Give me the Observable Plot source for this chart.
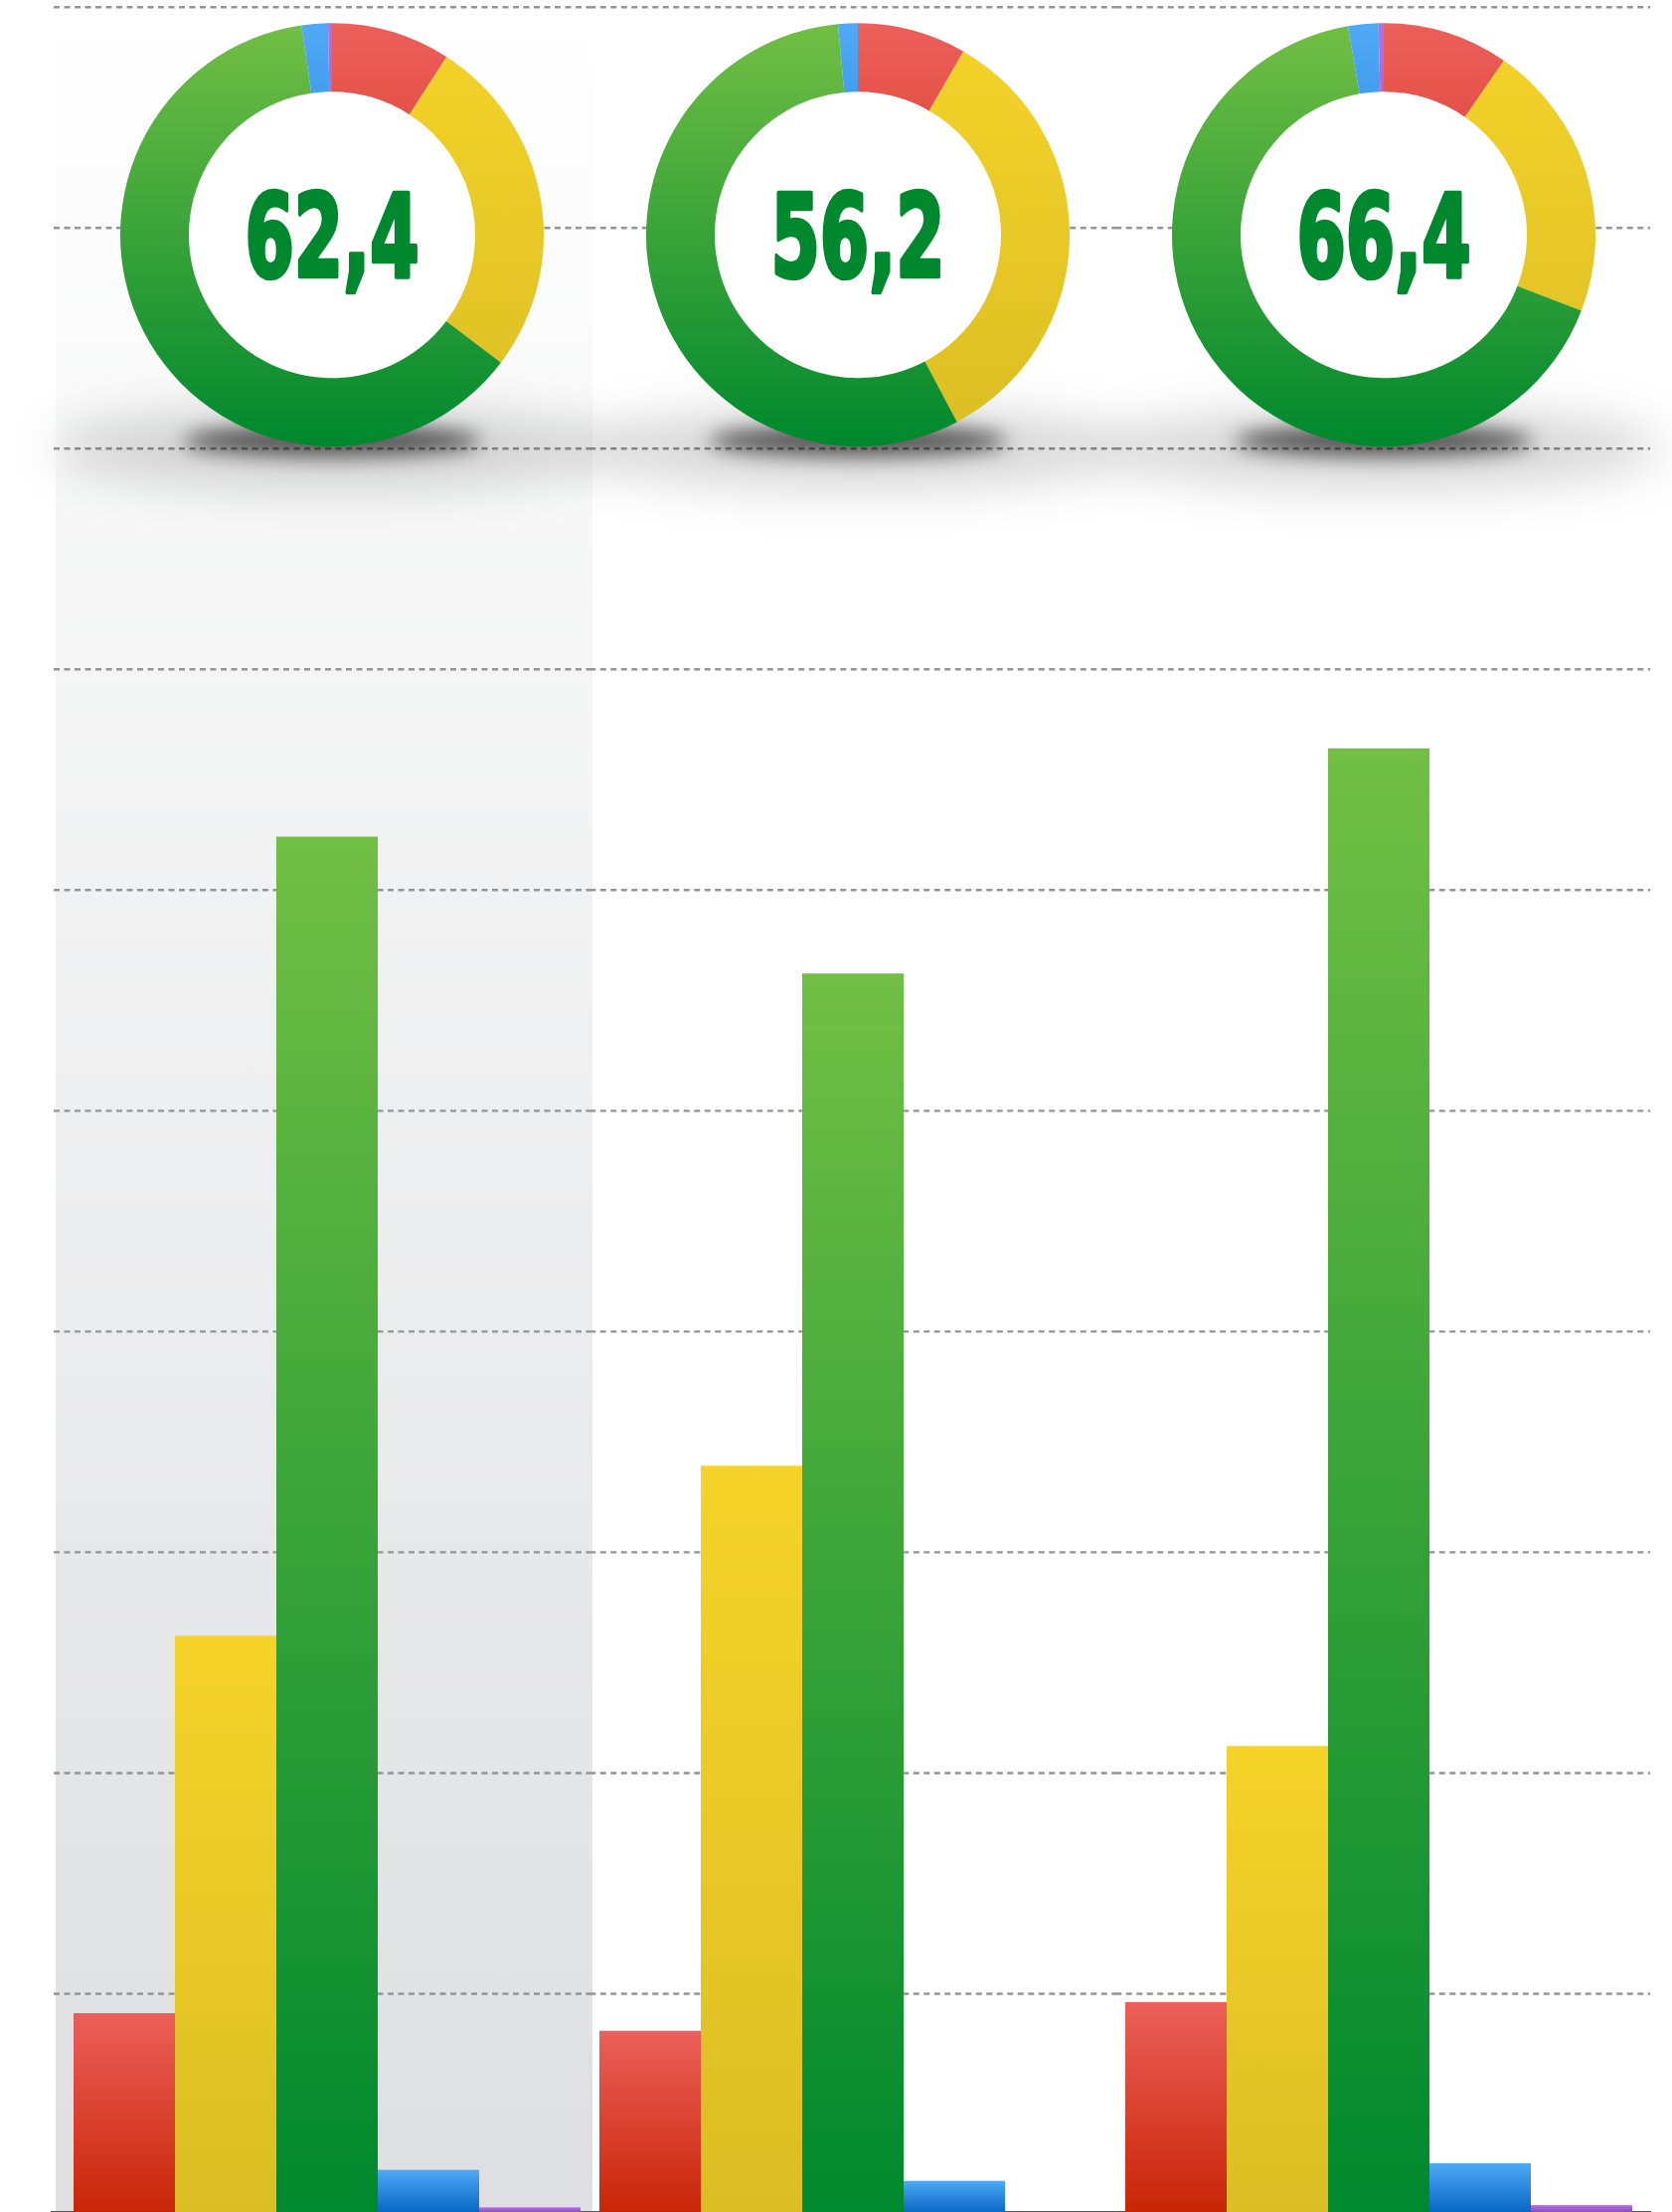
<!DOCTYPE html>
<html>
<head>
<meta charset="utf-8">
<script src="https://cdn.jsdelivr.net/npm/d3@7"></script>
<script src="https://cdn.jsdelivr.net/npm/@observablehq/plot@0.6"></script>
<style>
  html, body { margin: 0; padding: 0; background: #fff; overflow: hidden; }
  #chart svg { display: block; max-width: none !important; }
</style>
</head>
<body>
<div id="chart"></div>
<script>
// ---- data ----
const groups = ["A", "B", "C"];
const categories = ["red", "yellow", "green", "blue", "purple"];
const valuesA = [9.1, 26.2, 62.4, 2.0, 0.3];
const valuesB = [8.3, 33.9, 56.2, 1.5, 0];
const valuesC = [9.6, 21.2, 66.4, 2.3, 0.4];
const gridTicks = [10, 20, 30, 40, 50, 60, 70, 80, 90, 100];

// ---- derived tables ----
const seriesByGroup = [valuesA, valuesB, valuesC];
const table = groups.flatMap((g, gi) =>
  categories.map((c, ci) => ({group: g, category: c, value: seriesByGroup[gi][ci]}))
);
const gridRows = groups.flatMap(g => gridTicks.map(v => ({group: g, value: v})));
const baseRows = groups.map(g => ({group: g, value: 0}));

// ---- styles ----
const palette = {
  red: ["#ec5f5a", "#c82506"],
  yellow: ["#f5d329", "#dbbe24"],
  green: ["#72bf44", "#00882e"],
  blue: ["#4fa9f6", "#0565c4"],
  purple: ["#b46ee6", "#7c46a8"]
};
const gridExt = [[-20, -9.75], [-9.75, -9.75], [-9.75, -18]];
const baseExt = [[-23, -9.75], [-9.75, -9.75], [-9.75, -19]];

// ---- donut mark (one per facet) ----
let facetCall = 0;
function donutMark(index, scales, values, dims) {
  const k = facetCall++ % groups.length;
  const vals = seriesByGroup[k];
  const xs = scales.x;
  const bw = xs.bandwidth ? xs.bandwidth() : 0;
  const left = xs(categories[0]);
  const right = xs(categories[categories.length - 1]) + bw;
  const cx = (left + right) / 2 + 5;
  const R = 213, r = 144;
  const cy = scales.y(80) - R - 1.5;
  const g = d3.create("svg:g");
  const defs = g.append("defs");
  categories.forEach(c => {
    const lg = defs.append("linearGradient")
      .attr("id", `donut-${c}-${k}`)
      .attr("gradientUnits", "userSpaceOnUse")
      .attr("x1", 0).attr("x2", 0).attr("y1", -R).attr("y2", R);
    lg.append("stop").attr("offset", 0).attr("stop-color", palette[c][0]);
    lg.append("stop").attr("offset", 1).attr("stop-color", palette[c][1]);
  });
  // shadow
  g.append("ellipse")
    .attr("cx", cx).attr("cy", cy + R + 2).attr("rx", 280).attr("ry", 40)
    .attr("fill", "#000").attr("fill-opacity", 0.16).attr("filter", "url(#blurWide)");
  g.append("ellipse")
    .attr("cx", cx).attr("cy", cy + R - 6).attr("rx", 150).attr("ry", 16)
    .attr("fill", "#000").attr("fill-opacity", 0.6).attr("filter", "url(#blurCore)");
  // hole
  g.append("circle").attr("cx", cx).attr("cy", cy).attr("r", r + 1).attr("fill", "#fff");
  const pie = d3.pie().sort(null).value(d => d.value)(
    categories.map((c, i) => ({c, value: vals[i]}))
  );
  const arc = d3.arc().innerRadius(r).outerRadius(R);
  g.append("g").attr("transform", `translate(${cx},${cy})`)
    .selectAll("path").data(pie).join("path")
    .attr("d", arc)
    .attr("fill", d => `url(#donut-${d.data.c}-${k})`);
  const label = d3.format(".1f")(vals[categories.indexOf("green")]).replace(".", ",");
  g.append("text")
    .attr("transform", `translate(${cx},${cy + 42}) scale(0.68,1)`)
    .attr("text-anchor", "middle")
    .attr("font-family", "'DejaVu Sans Condensed', 'DejaVu Sans', sans-serif")
    .attr("font-weight", "bold")
    .attr("font-size", 116)
    .attr("fill", "#00882e")
    .attr("stroke", "#00882e")
    .attr("stroke-width", 4.5)
    .attr("stroke-linejoin", "round")
    .text(label);
  return g.node();
}

// ---- plot ----
const plot = Plot.plot({
  width: 1682,
  height: 2227,
  marginTop: 6.7,
  marginBottom: 0,
  marginLeft: 73,
  marginRight: 40,
  fx: {domain: groups, paddingInner: 0.0368, paddingOuter: 0, axis: null, label: null},
  x: {domain: categories, padding: 0, axis: null, label: null},
  y: {domain: [0, 100], axis: null, label: null},
  marks: [
    Plot.barY([{group: groups[0]}], {fx: "group", y1: () => 0, y2: () => 100, insetLeft: -18, insetRight: -12, fill: "url(#panelGrad)"}),
    ...groups.map((g, i) => Plot.ruleY(gridRows.filter(d => d.group === g), {
      fx: "group", y: "value", stroke: "#949494", strokeWidth: 2.4, strokeDasharray: "6,4.5",
      insetLeft: gridExt[i][0], insetRight: gridExt[i][1]
    })),
    ...groups.map((g, i) => Plot.ruleY(baseRows.filter(d => d.group === g), {
      fx: "group", y: "value", stroke: "#555", strokeWidth: 2, dy: -2.5,
      insetLeft: baseExt[i][0], insetRight: baseExt[i][1]
    })),
    ...categories.map(c => Plot.barY(table.filter(d => d.category === c), {
      fx: "group", x: "category", y: "value", fill: `url(#bar-${c})`
    })),
    donutMark
  ]
});

// ---- gradient & filter definitions ----
const defs = d3.create("svg:defs");
categories.forEach(c => {
  const lg = defs.append("linearGradient").attr("id", `bar-${c}`)
    .attr("x1", 0).attr("x2", 0).attr("y1", 0).attr("y2", 1);
  lg.append("stop").attr("offset", 0).attr("stop-color", palette[c][0]);
  lg.append("stop").attr("offset", 1).attr("stop-color", palette[c][1]);
});
const pg = defs.append("linearGradient").attr("id", "panelGrad")
  .attr("x1", 0).attr("x2", 0).attr("y1", 0).attr("y2", 1);
pg.append("stop").attr("offset", 0).attr("stop-color", "#ffffff");
pg.append("stop").attr("offset", 1).attr("stop-color", "#dedfe1");
defs.append("filter").attr("id", "blurWide")
  .attr("x", "-50%").attr("y", "-300%").attr("width", "200%").attr("height", "700%")
  .append("feGaussianBlur").attr("stdDeviation", 24);
defs.append("filter").attr("id", "blurCore")
  .attr("x", "-50%").attr("y", "-300%").attr("width", "200%").attr("height", "700%")
  .append("feGaussianBlur").attr("stdDeviation", 10);
plot.insertBefore(defs.node(), plot.firstChild);

document.getElementById("chart").appendChild(plot);
</script>
</body>
</html>
